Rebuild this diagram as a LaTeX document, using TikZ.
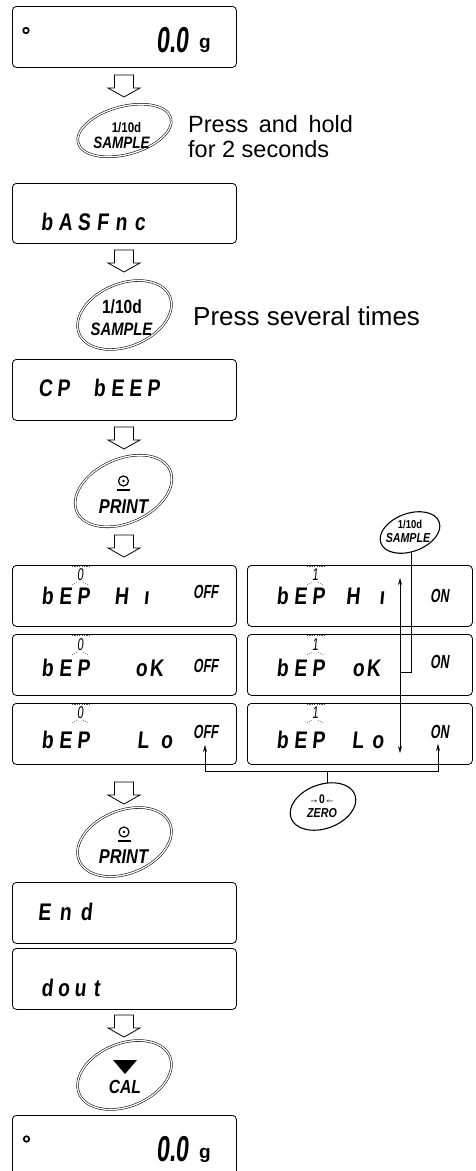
\documentclass[tikz,border=0pt]{standalone}
\usepackage{fontspec}
\setmainfont{Liberation Sans}
\newfontfamily\segfont[FakeSlant=0.1,FakeStretch=0.8]{Liberation Sans}
\newfontfamily\digfont[FakeSlant=0.1,FakeStretch=0.65]{Liberation Sans}
\newfontfamily\offfont[FakeSlant=0.15,FakeStretch=0.65]{Liberation Sans}
\newfontfamily\btnfont[FakeStretch=0.82]{Liberation Sans}
\usetikzlibrary{arrows.meta,shapes.geometric}
\newlength\segpitch
\newcommand\segstr[2]{\setlength\segpitch{#1pt}\segloop#2\relax}
\def\segloop#1{\ifx#1\relax\else\makebox[\segpitch][c]{#1}\expandafter\segloop\fi}
\newcommand\hollowarr[2]{\draw[hol] (#1-9.5,#2) -- (#1+9.5,#2) -- (#1+9.5,#2+13) -- (#1+16,#2+13) -- (#1,#2+22) -- (#1-16,#2+13) -- (#1-9.5,#2+13) -- cycle;}
\begin{document}
\begin{tikzpicture}[x=1pt,y=-1pt,
  disp/.style={draw, line width=0.8pt, rounded corners=4pt, minimum width=224pt, minimum height=61pt, inner sep=0pt, anchor=north west},
  dispw/.style={disp, minimum width=225pt},
  segtxt/.style={inner sep=0pt, anchor=base west, font=\segfont\bfseries\fontsize{24}{24}\selectfont},
  suptxt/.style={inner sep=0pt, anchor=base west, font=\digfont\fontsize{17}{17}\selectfont},
  offtxt/.style={inner sep=0pt, anchor=base west, font=\offfont\bfseries\fontsize{19}{19}\selectfont},
  btnd/.style={draw, ellipse, double, double distance=1.3pt, line width=0.55pt, inner sep=0pt},
  btns/.style={draw, ellipse, line width=1.1pt, inner sep=0pt},
  btxt/.style={inner sep=0pt, anchor=base, font=\btnfont\bfseries\fontsize{#1}{#1}\selectfont},
  bitxt/.style={inner sep=0pt, anchor=base, font=\btnfont\bfseries\itshape\fontsize{#1}{#1}\selectfont},
  hol/.style={draw, line width=0.8pt, fill=white, line join=miter},
  conn/.style={line width=0.7pt},
  tip/.style={-{Stealth[length=7pt,width=4pt]}},
  dashseg/.style={line width=0.4pt, dash pattern=on 1.2pt off 1.2pt, black!70},
  press/.style={inner sep=0pt, anchor=base west, font=\fontsize{#1}{#1}\selectfont},
  lamp/.style={circle, draw, line width=1.7pt, minimum size=5.5pt, inner sep=0pt},
  bigdig/.style={inner sep=0pt, anchor=base west, font=\digfont\bfseries\fontsize{36}{36}\selectfont},
  unit/.style={inner sep=0pt, anchor=base west, font=\bfseries\fontsize{19}{19}\selectfont},
]
\fill[white] (0,0) rectangle (476,1171);
\useasboundingbox (0,0) rectangle (476,1171);

% ---------- display boxes ----------
\node[disp] (b1) at (12,6) {};
\node[disp, minimum height=60pt] (b2) at (12,183) {};
\node[disp] (b3) at (12,359) {};
\node[disp] (L1) at (12,565) {};
\node[disp] (L2) at (12,634) {};
\node[disp] (L3) at (12,703) {};
\node[dispw] (R1) at (247,565) {};
\node[dispw] (R2) at (247,634) {};
\node[dispw] (R3) at (247,703) {};
\node[disp] (bE) at (12,882) {};
\node[disp] (bD) at (12,948) {};
\node[disp] (bF) at (12,1115) {};

% ---------- box 1 and final box ----------
\node[lamp] (c1) at (26,30.5) {};
\node[bigdig] (z1) at (156,52.5) {0.0};
\node[unit] (g1) at (199,48.5) {g};
\node[lamp] (c2) at (26.5,1139) {};
\node[bigdig] (z2) at (156,1161.5) {0.0};
\node[unit] (g2) at (199,1158) {g};

% ---------- other displays ----------
\node[segtxt] (s2) at (37.2,230) {\segstr{18.6}{bASFnc}};
\node[segtxt] (s3) at (36,396) {\segstr{18}{CP~bEEP}};
\node[segtxt] (sE) at (33.5,920) {\segstr{21}{End}};
\node[segtxt] (sD) at (38.5,996) {\segstr{16.5}{dout}};

% rows left
\node[segtxt] (l1a) at (38,604) {\segstr{18}{bEP}};
\node[suptxt] (l1s) at (77,580) {0};
\node[segtxt] (l1b) at (108.5,604) {\segstr{25}{Hı}};
\node[offtxt] (l1o) at (193,598) {OFF};
\node[segtxt] (l2a) at (38,676) {\segstr{18}{bEP}};
\node[suptxt] (l2s) at (77,650) {0};
\node[segtxt] (l2b) at (133.5,676) {\segstr{15}{oK}};
\node[offtxt] (l2o) at (193,672) {OFF};
\node[segtxt] (l3a) at (38,748) {\segstr{18}{bEP}};
\node[suptxt] (l3s) at (77,718) {0};
\node[segtxt] (l3b) at (131,748) {\segstr{23.5}{Lo}};
\node[offtxt] (l3o) at (193,738) {OFF};
% rows right
\node[segtxt] (r1a) at (273,604) {\segstr{18}{bEP}};
\node[suptxt] (r1s) at (312,580) {1};
\node[segtxt] (r1b) at (338,604) {\segstr{29}{Hı}};
\node[offtxt] (r1o) at (430,602) {ON};
\node[segtxt] (r2a) at (273,676) {\segstr{18}{bEP}};
\node[suptxt] (r2s) at (312,650) {1};
\node[segtxt] (r2b) at (350.5,676) {\segstr{15}{oK}};
\node[offtxt] (r2o) at (430,668) {ON};
\node[segtxt] (r3a) at (273,748) {\segstr{18}{bEP}};
\node[suptxt] (r3s) at (312,718) {1};
\node[segtxt] (r3b) at (347.5,748) {\segstr{20}{Lo}};
\node[offtxt] (r3o) at (430,738) {ON};

% unlit segment marks
\foreach \dx in {0,235} {
  \foreach \ty/\sy in {565/580, 634/650, 703/718} {
    \draw[dashseg] (72+\dx,\ty+1) -- (89+\dx,\ty+1);
    \draw[dashseg] (72+\dx,\sy+5) -- (77+\dx,\sy+2);
    \draw[dashseg] (83+\dx,\sy+2) -- (88+\dx,\sy+5);
  }
}

% ---------- hollow arrows ----------
\hollowarr{124}{75}
\hollowarr{124}{250}
\hollowarr{124}{427}
\hollowarr{124}{535}
\hollowarr{124}{782}
\hollowarr{124}{1015}

% ---------- buttons ----------
\node[btnd, rotate=15, minimum width=96pt, minimum height=48pt] (k1) at (124.5,130.5) {};
\node[btxt=14] (k1a) at (126.5,132.5) {1/10d};
\node[bitxt=16.5] (k1b) at (121.5,148) {SAMPLE};

\node[btnd, rotate=22, minimum width=98pt, minimum height=63pt] (k2) at (124.5,315) {};
\node[btxt=19] (k2a) at (122,313) {1/10d};
\node[bitxt=18] (k2b) at (121.5,335) {SAMPLE};

\node[btnd, rotate=24, minimum width=102pt, minimum height=64pt] (k3) at (123.5,491) {};
\node[circle, draw, line width=1.2pt, minimum size=10pt, inner sep=0pt] (k3c) at (123.5,481) {};
\fill (k3c) circle (1.3pt);
\draw[line width=1.2pt] (117,490) -- (130,490);
\node[bitxt=20] (k3a) at (123.5,513) {PRINT};

\node[btnd, rotate=22, minimum width=98pt, minimum height=63pt] (k4) at (124.5,842) {};
\node[circle, draw, line width=1.2pt, minimum size=10pt, inner sep=0pt] (k4c) at (124,832) {};
\fill (k4c) circle (1.3pt);
\draw[line width=1.2pt] (117.5,841) -- (130.5,841);
\node[bitxt=20] (k4a) at (123.5,863) {PRINT};

\node[btnd, rotate=22, minimum width=98pt, minimum height=63pt] (k5) at (124.5,1075) {};
\fill (113,1060) -- (137,1060) -- (125,1074) -- cycle;
\node[bitxt=19] (k5a) at (125,1093) {CAL};

\node[btns, rotate=20, minimum width=62pt, minimum height=38pt] (ks) at (410,532.5) {};
\node[btxt=11.5] (ksa) at (410,528) {1/10d};
\node[bitxt=13] (ksb) at (408,542) {SAMPLE};

\node[btns, rotate=20, minimum width=68pt, minimum height=44pt] (kz) at (323,806.5) {};
\node[btxt=12.5] (kza) at (322,803) {→0←};
\node[bitxt=13] (kzb) at (322,817) {ZERO};

% ---------- press texts ----------
\node[press=23.5] (p1) at (188,132) {Press\hspace{0.45em}and\hspace{0.45em}hold};
\node[press=23.5] (p2) at (188,157) {for 2 seconds};
\node[press=26] (p3) at (193,325) {Press several times};

% ---------- connectors ----------
\coordinate (vtop) at (400,578);
\coordinate (vbot) at (400,753);
\draw[conn, {Stealth[length=7pt,width=4pt]}-{Stealth[length=7pt,width=4pt]}] (vtop) -- (vbot);
\coordinate (sbot) at (411,552);
\coordinate (sjoin) at (400,672);
\draw[conn] (sbot) |- (sjoin);
\coordinate (ztop) at (327,783);
\coordinate (zjoin) at (327,771);
\coordinate (offtip) at (205,745);
\coordinate (ontip) at (438,744);
\draw[conn] (ztop) -- (zjoin);
\draw[conn,tip] (zjoin) -| (offtip);
\draw[conn,tip] (zjoin) -| (ontip);
\end{tikzpicture}
\end{document}
